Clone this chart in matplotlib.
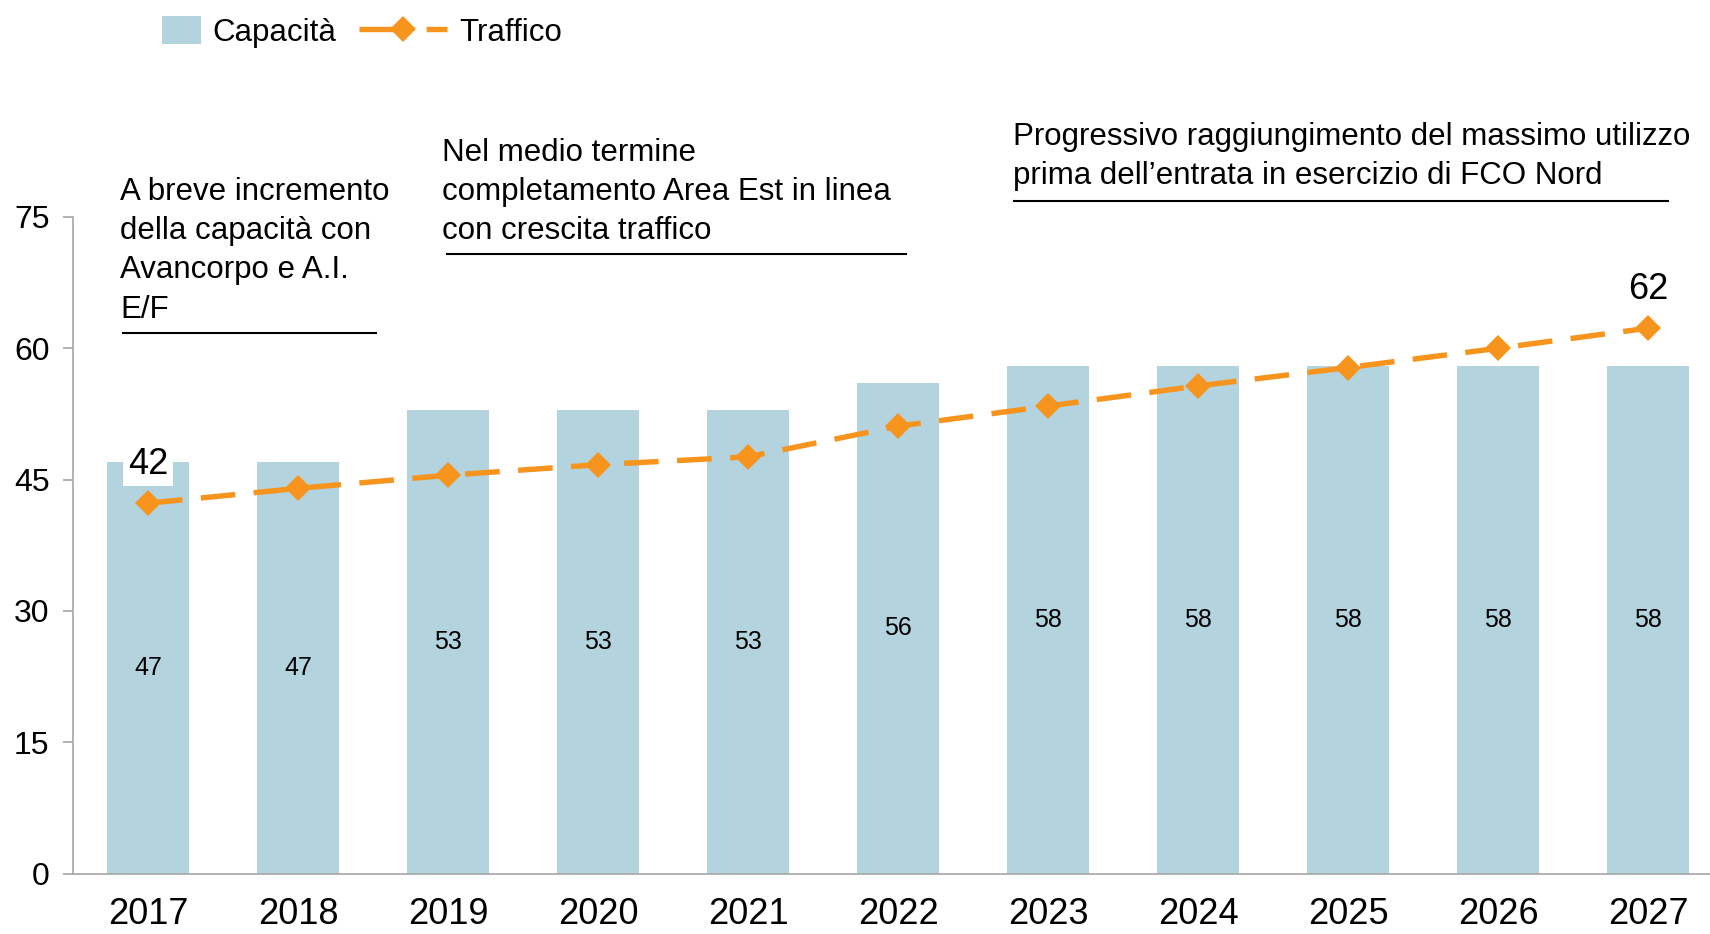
import matplotlib

matplotlib.use("Agg")
import matplotlib.pyplot as plt
from matplotlib.legend_handler import HandlerPatch
from matplotlib.lines import Line2D
from matplotlib.patches import Patch, Rectangle

plt.rcParams["font.family"] = ["Liberation Sans", "DejaVu Sans"]

# data
years = ["2017", "2018", "2019", "2020", "2021", "2022", "2023", "2024", "2025", "2026", "2027"]
capacita = [47, 47, 53, 53, 53, 56, 58, 58, 58, 58, 58]
traffico = [42.3, 44.0, 45.5, 46.7, 47.6, 51.1, 53.4, 55.7, 57.8, 60.0, 62.3]
traffico_labels = {0: "42", 10: "62"}
y_ticks = [0, 15, 30, 45, 60, 75]

notes = [
    "A breve incremento\ndella capacità con\nAvancorpo e A.I.\nE/F",
    "Nel medio termine\ncompletamento Area Est in linea\ncon crescita traffico",
    "Progressivo raggiungimento del massimo utilizzo\nprima dell\u2019entrata in esercizio di FCO Nord",
]

BAR_COLOR = "#B3D3DE"
LINE_COLOR = "#F7941D"
AXIS_COLOR = "#A6A6A6"

W, H = 1710, 934
fig = plt.figure(figsize=(W / 100, H / 100), dpi=100)


def fx(px):
    return px / W


def fy(py):
    return 1 - py / H


ax = fig.add_axes([fx(73), fy(873.5), 1 - fx(73), fy(217) - fy(873.5)])

x = list(range(len(years)))
bars = ax.bar(x, capacita, width=0.553, color=BAR_COLOR, label="Capacità", zorder=1)
ax.bar_label(bars, labels=[str(v) for v in capacita], label_type="center", fontsize=18)

line_style = dict(
    color=LINE_COLOR,
    linewidth=3.9,
    marker="D",
    markersize=13,
    markeredgewidth=0,
)
ax.plot(x, traffico, label="Traffico", dashes=(6.4, 3.4), zorder=3, **line_style)

# start / end values of the traffic line
for i, txt in traffico_labels.items():
    box = dict(facecolor="white", edgecolor="none", pad=3) if i == 0 else None
    ax.annotate(
        txt,
        (x[i], traffico[i]),
        xytext=(0, 28),
        textcoords="offset points",
        ha="center",
        va="center",
        fontsize=26,
        bbox=box,
        zorder=4,
    )

ax.set_xlim(-0.5, (W - 148) / 150)
ax.set_ylim(0, 75)
ax.set_yticks(y_ticks)
ax.set_xticks(x)
ax.set_xticklabels(years)

for side in ["top", "right"]:
    ax.spines[side].set_visible(False)
for side in ["left", "bottom"]:
    ax.spines[side].set_color(AXIS_COLOR)
    ax.spines[side].set_linewidth(1.2)

ax.tick_params(axis="y", length=7, width=1.2, color=AXIS_COLOR, pad=10, labelsize=23)
ax.tick_params(axis="x", length=0, pad=17, labelsize=26)

# annotations with underline
note_pos = [(120, 177), (442, 138), (1013, 122)]
rules = [(123, 376, 333), (447, 906, 254), (1014, 1668, 201)]
for txt, (px, py) in zip(notes, note_pos):
    fig.text(fx(px), fy(py), txt, ha="left", va="top", fontsize=22.5, linespacing=1.40)
for x0, x1, yy in rules:
    fig.add_artist(Line2D([fx(x0), fx(x1)], [fy(yy), fy(yy)], color="black", linewidth=1.5))


# legend: small square for the bars, long handle for the line
def square(legend, orig_handle, xdescent, ydescent, width, height, fontsize):
    side = height * 1.38
    return Rectangle((width - side - xdescent, -ydescent), side, height)


handles = [
    Patch(facecolor=BAR_COLOR, label="Capacità"),
    Line2D([], [], label="Traffico", dashes=(9, 3.4), **line_style),
]
fig.legend(
    handles=handles,
    loc="center left",
    bbox_to_anchor=(fx(113), fy(32)),
    ncol=2,
    frameon=False,
    fontsize=22.5,
    handlelength=2.8,
    handleheight=1.0,
    handletextpad=0.38,
    columnspacing=0.74,
    borderpad=0,
    borderaxespad=0,
    handler_map={Patch: HandlerPatch(patch_func=square)},
)

fig.savefig("out.png", dpi=100)
